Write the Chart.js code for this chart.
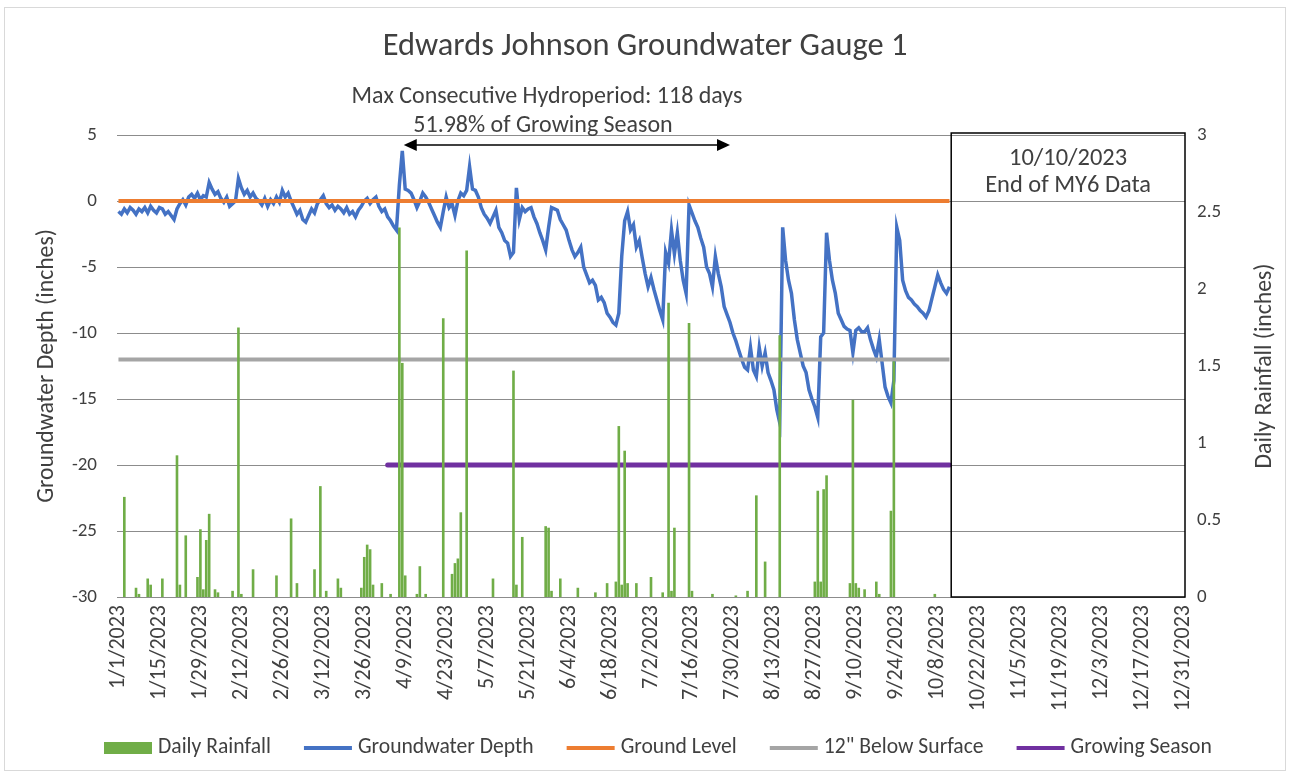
<!DOCTYPE html>
<html><head><meta charset="utf-8">
<script src="https://cdn.jsdelivr.net/npm/chart.js@4.4.1/dist/chart.umd.min.js"></script>
<style>html,body{margin:0;padding:0;background:#fff;}canvas{display:block;}</style>
</head><body>
<canvas id="c" width="1290" height="776"></canvas>
<script>
// ---------- DATA ----------
const monthLengths = [31,28,31,30,31,30,31,31,30,31,30,31];
const categories = [];
monthLengths.forEach((n, m) => { for (let d = 1; d <= n; d++) categories.push(`${m + 1}/${d}/2023`); });

const tickLabels = ['1/1/2023','1/15/2023','1/29/2023','2/12/2023','2/26/2023','3/12/2023','3/26/2023',
  '4/9/2023','4/23/2023','5/7/2023','5/21/2023','6/4/2023','6/18/2023','7/2/2023','7/16/2023','7/30/2023',
  '8/13/2023','8/27/2023','9/10/2023','9/24/2023','10/8/2023','10/22/2023','11/5/2023','11/19/2023',
  '12/3/2023','12/17/2023','12/31/2023'];

// Daily groundwater depth (inches), one value per day starting 1/1/2023
const groundwaterDepth = [
  -0.8,-1.0,-0.6,-0.9,-0.5,-0.7,-1.0,-0.6,-0.8,
  -0.5,-0.9,-0.4,-0.7,-0.9,-0.5,-0.6,-1.0,-0.8,-1.1,
  -1.4,
  -0.6,-0.2,0.1,-0.3,0.3,0.5,0.2,0.6,0.1,0.4,0.3,
  1.4,
  0.9,0.5,0.7,0.2,-0.1,0.3,-0.4,-0.2,0.0,
  1.7,
  1.0,0.5,0.8,0.3,0.6,0.2,
  0.0,-0.3,0.2,-0.4,0.1,-0.2,0.3,-0.1,
  0.8,0.3,0.6,0.0,
  -0.5,-1.0,-0.7,-1.4,-1.6,-1.1,
  -0.6,-0.9,-0.2,0.1,0.4,
  -0.2,-0.5,-0.3,-0.7,-0.4,-0.6,
  -0.9,-0.5,-1.0,-0.8,-1.2,-0.7,-0.4,
  0.0,0.2,-0.2,0.1,0.3,
  -0.4,-0.8,-0.6,-1.2,-1.5,-1.9,-2.2,
  1.2,3.8,0.9,0.8,0.6,0.1,-0.5,0.0,0.6,0.3,
  -0.1,-0.6,-1.1,-1.6,-2.0,-0.8,0.3,-0.5,-0.2,-1.1,
  0.0,0.6,0.4,0.8,2.6,0.9,0.8,0.3,-0.5,-1.0,
  -1.3,-1.7,-1.2,-0.7,-2.0,-2.4,-3.0,-3.2,-4.2,-3.9,
  1.0,-1.4,-0.5,-0.8,-0.6,-0.5,-1.2,-1.7,-2.4,-3.0,
  -3.7,-2.0,-0.5,-0.6,-0.7,-1.4,-1.8,-2.2,-3.0,-3.7,
  -4.2,-3.9,-3.5,-5.0,-5.6,-6.2,-6.0,-6.4,-7.5,-7.3,
  -7.7,-8.5,-8.8,-9.2,-9.4,-8.5,-4.2,-1.5,-0.8,-2.2,
  -1.8,-3.5,-3.0,-4.3,-5.5,-6.5,-5.8,-6.7,-7.5,-8.3,
  -9.0,-3.9,-4.7,-2.2,-4.0,-2.4,-4.5,-6.0,-7.0,-0.3,
  -0.9,-1.5,-2.0,-2.8,-3.5,-5.0,-5.5,-6.5,-4.2,-5.5,
  -6.5,-8.0,-8.6,-9.2,-10.0,-10.6,-11.3,-12.0,-12.6,-12.8,
  -11.1,-12.8,-13.3,-11.1,-12.5,-11.5,-13.0,-13.6,-14.3,-15.8,
  -16.8,-2.0,-4.5,-6.0,-7.0,-9.0,-10.5,-11.5,-12.5,-13.0,
  -14.3,-15.0,-15.6,-16.4,-10.3,-10.0,-2.4,-4.5,-6.0,-7.0,
  -8.5,-9.0,-9.5,-9.7,-9.8,-11.5,-9.8,-9.6,-9.9,-9.9,
  -9.6,-10.5,-11.2,-11.8,-10.5,-12.3,-14.1,-14.8,-15.3,-13.6,
  -2.0,-3.0,-6.0,-6.8,-7.3,-7.5,-7.8,-8.0,-8.3,-8.5,
  -8.8,-8.3,-7.4,-6.5,-5.6,-6.2,-6.7,-7.0,-6.5
];

// Daily rainfall (inches) — only days with rain
const rainDates = ['1/3/2023','1/7/2023','1/8/2023','1/11/2023','1/12/2023','1/16/2023','1/21/2023','1/22/2023',
  '1/24/2023','1/28/2023','1/29/2023','1/30/2023','1/31/2023','2/1/2023','2/3/2023','2/4/2023','2/9/2023',
  '2/11/2023','2/12/2023','2/16/2023','2/24/2023','3/1/2023','3/3/2023','3/9/2023','3/11/2023','3/13/2023',
  '3/17/2023','3/18/2023','3/25/2023','3/26/2023','3/27/2023','3/28/2023','3/29/2023','4/1/2023','4/4/2023',
  '4/7/2023','4/8/2023','4/9/2023','4/13/2023','4/14/2023','4/16/2023','4/22/2023','4/25/2023','4/26/2023',
  '4/27/2023','4/28/2023','4/30/2023','5/9/2023','5/16/2023','5/17/2023','5/19/2023','5/27/2023','5/28/2023',
  '5/29/2023','6/1/2023','6/7/2023','6/13/2023','6/17/2023','6/20/2023','6/21/2023','6/22/2023','6/23/2023',
  '6/24/2023','6/27/2023','7/2/2023','7/6/2023','7/8/2023','7/9/2023','7/10/2023','7/15/2023','7/16/2023',
  '7/23/2023','7/31/2023','8/4/2023','8/7/2023','8/10/2023','8/15/2023','8/27/2023','8/28/2023','8/29/2023',
  '8/30/2023','8/31/2023','9/8/2023','9/9/2023','9/10/2023','9/11/2023','9/13/2023','9/17/2023','9/18/2023',
  '9/22/2023','9/23/2023','10/7/2023'];
const rainInches = [0.65,0.06,0.02,0.12,0.08,0.12,0.92,0.08,
  0.40,0.13,0.44,0.05,0.37,0.54,0.05,0.03,0.04,
  1.75,0.02,0.18,0.14,0.51,0.09,0.18,0.72,0.04,
  0.12,0.06,0.06,0.26,0.34,0.31,0.08,0.09,0.02,
  2.40,1.52,0.14,0.02,0.20,0.02,1.81,0.15,0.22,
  0.25,0.55,2.25,0.12,1.47,0.08,0.39,0.46,0.45,
  0.04,0.12,0.06,0.03,0.09,0.10,1.11,0.08,0.95,
  0.09,0.09,0.13,0.03,1.91,0.04,0.45,1.78,0.04,
  0.02,0.01,0.04,0.66,0.23,1.70,0.10,0.69,0.10,
  0.70,0.79,0.09,1.28,0.09,0.06,0.05,0.10,0.02,
  0.56,1.53,0.02];

const dataEndDate = '10/12/2023';
const growingSeasonStart = '4/3/2023';
const groundLevel = 0;
const belowSurfaceLevel = -12;
const growingSeasonLevel = -20;

const hydroperiodLabel = ['Max Consecutive Hydroperiod: 118 days', '51.98% of Growing Season'];
const hydroperiodSpan = ['4/9/2023', '7/29/2023'];
const endNote = ['10/10/2023', 'End of MY6 Data'];
const chartTitle = 'Edwards Johnson Groundwater Gauge 1';

// ---------- BUILD SERIES ----------
const endIdx = categories.indexOf(dataEndDate);
const gsIdx = categories.indexOf(growingSeasonStart);
const rainSeries = categories.map(() => null);
rainDates.forEach((d, i) => { rainSeries[categories.indexOf(d)] = rainInches[i]; });
const gwSeries = categories.map((_, i) => i < groundwaterDepth.length ? groundwaterDepth[i] : null);
const glSeries = categories.map((_, i) => i <= endIdx ? groundLevel : null);
const bsSeries = categories.map((_, i) => i <= endIdx ? belowSurfaceLevel : null);
const gsSeries = categories.map((_, i) => (i >= gsIdx && i <= endIdx) ? growingSeasonLevel : null);

// ---------- STYLE ----------
const FONT = "Carlito, Lato, 'Open Sans', sans-serif";
const TEXT = '#404040';
const GRID = '#8c8c8c';
const C_RAIN = '#70AD47', C_GW = '#4472C4', C_GL = '#ED7D31', C_BS = '#A5A5A5', C_GS = '#7030A0';

function fitSize(ctx, text, width, base) {
  ctx.font = `${base}px ${FONT}`;
  return base * width / ctx.measureText(text).width;
}

const decor = {
  id: 'decor',
  beforeDraw(chart) {
    const ctx = chart.ctx;
    ctx.save(); ctx.fillStyle = '#fff'; ctx.fillRect(0, 0, chart.width, chart.height); ctx.restore();
  },
  afterDraw(chart) {
    const {ctx, chartArea: ca, scales} = chart;
    const xs = scales.x, ys = scales.y;
    ctx.save();
    // outer chart border
    ctx.strokeStyle = '#d9d9d9'; ctx.lineWidth = 1;
    ctx.strokeRect(4.5, 7.5, 1281, 763);
    ctx.fillStyle = TEXT; ctx.textAlign = 'center'; ctx.textBaseline = 'middle';
    // title
    ctx.font = `${fitSize(ctx, chartTitle, 525, 30)}px ${FONT}`;
    ctx.fillText(chartTitle, 645, 47);
    // hydroperiod annotation
    ctx.font = `${fitSize(ctx, hydroperiodLabel[0], 391, 20)}px ${FONT}`;
    ctx.fillText(hydroperiodLabel[0], 547, 97);
    ctx.fillText(hydroperiodLabel[1], 543, 126);
    const ay = ys.getPixelForValue(4.25);
    const ax1 = xs.getPixelForValue(categories.indexOf(hydroperiodSpan[0]) - 0.5);
    const ax2 = xs.getPixelForValue(categories.indexOf(hydroperiodSpan[1]));
    ctx.strokeStyle = '#000'; ctx.fillStyle = '#000'; ctx.lineWidth = 1.5;
    ctx.beginPath(); ctx.moveTo(ax1 + 10, ay); ctx.lineTo(ax2 - 10, ay); ctx.stroke();
    ctx.beginPath(); ctx.moveTo(ax1, ay); ctx.lineTo(ax1 + 13, ay - 6); ctx.lineTo(ax1 + 13, ay + 6); ctx.closePath(); ctx.fill();
    ctx.beginPath(); ctx.moveTo(ax2, ay); ctx.lineTo(ax2 - 13, ay - 6); ctx.lineTo(ax2 - 13, ay + 6); ctx.closePath(); ctx.fill();
    // end-of-data box
    const bx = xs.getPixelForValue(endIdx + 0.6);
    ctx.strokeStyle = '#000'; ctx.lineWidth = 1.5;
    ctx.strokeRect(bx, ca.top - 2, ca.right - bx, ca.bottom - ca.top + 2);
    ctx.fillStyle = TEXT;
    const bcx = (bx + ca.right) / 2;
    ctx.font = `${fitSize(ctx, endNote[1], 166, 20)}px ${FONT}`;
    ctx.fillText(endNote[0], bcx, 159);
    ctx.fillText(endNote[1], bcx, 186);
    // axis titles (both read bottom-to-top)
    ctx.font = `${fitSize(ctx, 'Daily Rainfall (inches)', 205, 20)}px ${FONT}`;
    const cy = (ca.top + ca.bottom) / 2;
    ctx.save(); ctx.translate(47, cy); ctx.rotate(-Math.PI / 2); ctx.fillText('Groundwater Depth (inches)', 0, 0); ctx.restore();
    ctx.save(); ctx.translate(1265, cy); ctx.rotate(-Math.PI / 2); ctx.fillText('Daily Rainfall (inches)', 0, 0); ctx.restore();
    // legend
    const styles = [
      {type: 'rect', color: C_RAIN}, {type: 'line', color: C_GW}, {type: 'line', color: C_GL},
      {type: 'line', color: C_BS}, {type: 'line', color: C_GS}];
    let lx = 104; const ly = 748;
    ctx.font = `${fitSize(ctx, chart.data.datasets[0].label, 113, 20)}px ${FONT}`;
    ctx.textAlign = 'left'; ctx.textBaseline = 'middle';
    chart.data.datasets.forEach((ds, i) => {
      const s = styles[i];
      if (s.type === 'rect') { ctx.fillStyle = s.color; ctx.fillRect(lx, ly - 6, 48, 12); }
      else { ctx.strokeStyle = s.color; ctx.lineWidth = 4; ctx.beginPath(); ctx.moveTo(lx, ly); ctx.lineTo(lx + 48, ly); ctx.stroke(); }
      ctx.fillStyle = TEXT; ctx.fillText(ds.label, lx + 54, ly);
      lx += 54 + ctx.measureText(ds.label).width + 33;
    });
    ctx.restore();
  }
};

new Chart(document.getElementById('c'), {
  type: 'bar',
  data: {
    labels: categories,
    datasets: [
      {type: 'bar', label: 'Daily Rainfall', data: rainSeries, yAxisID: 'y1', backgroundColor: C_RAIN,
       categoryPercentage: 1, barPercentage: 0.9, order: 0},
      {type: 'line', label: 'Groundwater Depth', data: gwSeries, yAxisID: 'y', borderColor: C_GW, borderWidth: 3.5,
       pointRadius: 0, tension: 0, order: 4},
      {type: 'line', label: 'Ground Level', data: glSeries, yAxisID: 'y', borderColor: C_GL, borderWidth: 4,
       pointRadius: 0, order: 3},
      {type: 'line', label: '12" Below Surface', data: bsSeries, yAxisID: 'y', borderColor: C_BS, borderWidth: 4,
       pointRadius: 0, order: 2},
      {type: 'line', label: 'Growing Season', data: gsSeries, yAxisID: 'y', borderColor: C_GS, borderWidth: 5,
       pointRadius: 0, borderCapStyle: 'round', order: 1}
    ]
  },
  options: {
    responsive: false,
    animation: false,
    events: [],
    layout: {padding: {top: 135, bottom: 60, left: 0, right: 0}},
    plugins: {legend: {display: false}, title: {display: false}, tooltip: {enabled: false}},
    scales: {
      x: {
        type: 'category', offset: true,
        grid: {display: false, drawTicks: false}, border: {display: false},
        ticks: {autoSkip: false, minRotation: 90, maxRotation: 90, padding: 8, color: TEXT,
          font: {family: FONT, size: 22},
          callback: (v, i) => tickLabels.includes(categories[i]) ? categories[i] : null},
        afterFit: s => { s.height = 119; }
      },
      y: {
        position: 'left', min: -30, max: 5,
        ticks: {stepSize: 5, padding: 20, color: TEXT, font: {family: FONT, size: 19}},
        grid: {color: GRID, lineWidth: 1, drawTicks: false}, border: {display: false},
        afterFit: s => { s.width = 117; }
      },
      y1: {
        position: 'right', min: 0, max: 3,
        ticks: {stepSize: 0.5, padding: 12, color: TEXT, font: {family: FONT, size: 19},
          callback: v => String(Math.round(v * 10) / 10)},
        grid: {display: false, drawTicks: false}, border: {display: false},
        afterFit: s => { s.width = 105; }
      }
    }
  },
  plugins: [decor]
});
</script>
</body></html>
